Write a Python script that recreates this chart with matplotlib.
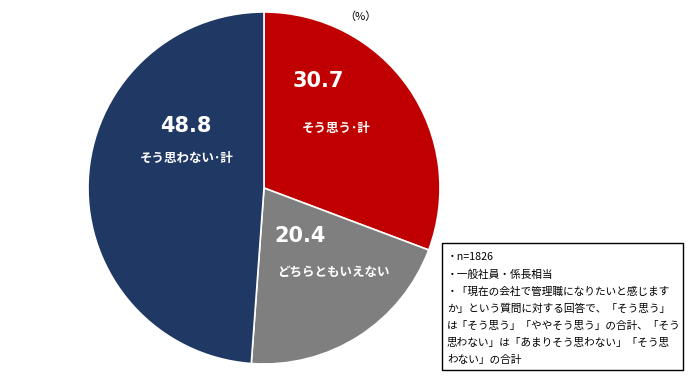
import matplotlib
matplotlib.use('Agg')
import matplotlib.pyplot as plt
from matplotlib.patches import Rectangle

plt.rcParams['font.family'] = ['Noto Sans CJK JP', 'DejaVu Sans']

values = [30.7, 20.4, 48.8]
labels = ['そう思う･計', 'どちらともいえない', 'そう思わない･計']
colors = ['#C00000', '#7F7F7F', '#1F3864']
note = ['・n=1826',
        '・一般社員・係長相当',
        '・「現在の会社で管理職になりたいと感じます',
        'か」という質問に対する回答で、「そう思う」',
        'は「そう思う」「ややそう思う」の合計、「そう',
        '思わない」は「あまりそう思わない」「そう思',
        'わない」の合計']

W, H = 690, 380
fig = plt.figure(figsize=(6.9, 3.8), dpi=100)

cx, cy, r = 264, 188, 176
ax = fig.add_axes([(cx - r) / W, (H - cy - r) / H, 2 * r / W, 2 * r / H])
ax.pie(values, colors=colors, startangle=90, counterclock=False,
       wedgeprops=dict(edgecolor='white', linewidth=1.2))
ax.set_xlim(-1, 1)
ax.set_ylim(-1, 1)
ax.set_aspect('equal')

def px(x, y):
    return x / W, 1 - y / H

# value / label positions (pixels in the reference)
num_pos = [(318, 81), (300, 236), (186, 126)]
lab_pos = [(336, 128), (333, 272), (187, 158)]
for v, l, p1, p2 in zip(values, labels, num_pos, lab_pos):
    fig.text(*px(*p1), f'{v:.1f}', color='white', fontsize=15, fontweight='bold',
             ha='center', va='center', family='DejaVu Sans')
    fig.text(*px(*p2), l, color='white', fontsize=9, fontweight='bold',
             ha='center', va='center')

fig.text(*px(360, 17), '（%）', fontsize=8, ha='center', va='center')

# note box
bx0, by0, bx1, by1 = 442, 243, 683, 370
fig.patches.append(Rectangle((bx0 / W, 1 - by1 / H), (bx1 - bx0) / W, (by1 - by0) / H,
                             transform=fig.transFigure, fill=False,
                             edgecolor='black', linewidth=1))
for i, line in enumerate(note):
    fig.text(*px(447, 257 + i * 17.2), line, fontsize=7.7, ha='left', va='center')

fig.savefig('out.png', dpi=100)
